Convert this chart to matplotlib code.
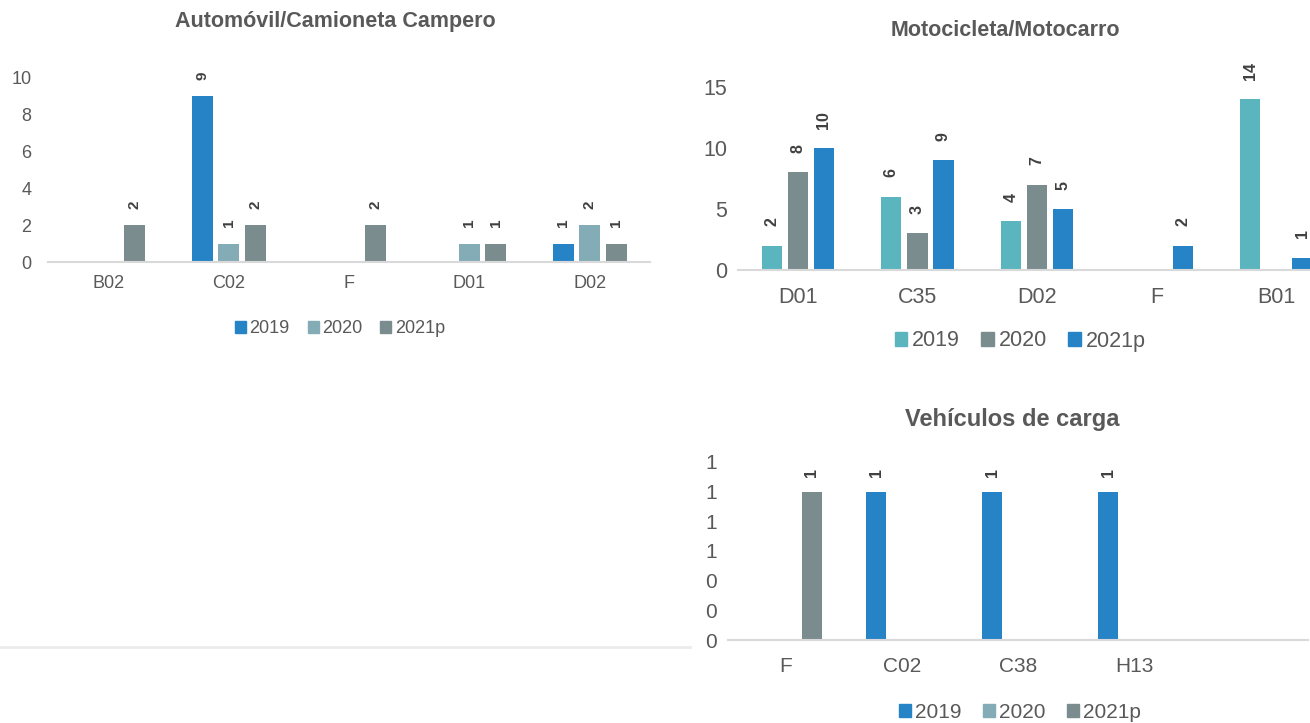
import numpy as np
import matplotlib
matplotlib.use("Agg")
import matplotlib.pyplot as plt
from matplotlib.lines import Line2D
from matplotlib.patches import Patch

plt.rcParams['font.family'] = ['Liberation Sans', 'DejaVu Sans']

# Automovil/Camioneta Campero
cat_auto = ["B02", "C02", "F", "D01", "D02"]
auto_2019 = [0, 9, 0, 0, 1]
auto_2020 = [0, 1, 0, 1, 2]
auto_2021 = [2, 2, 2, 1, 1]

# Motocicleta/Motocarro
cat_moto = ["D01", "C35", "D02", "F", "B01"]
moto_2019 = [2, 6, 4, 0, 14]
moto_2020 = [8, 3, 7, 0, 0]
moto_2021 = [10, 9, 5, 2, 1]

# Vehiculos de carga
cat_carga = ["F", "C02", "C38", "H13", ""]
carga_2019 = [0, 1, 1, 1, 0]
carga_2020 = [0, 0, 0, 0, 0]
carga_2021 = [1, 0, 0, 0, 0]

years = ["2019", "2020", "2021p"]

blue = "#2683C6"
light = "#84ACB6"
grey = "#7A8C8E"
teal = "#5AB5BF"
txt = "#595959"
lbl = "#404040"

W, H = 1310, 723
fig = plt.figure(figsize=(W / 100, H / 100), dpi=100)


def box(x0, x1, ytop, ybot):
    return [x0 / W, 1 - ybot / H, (x1 - x0) / W, (ybot - ytop) / H]


def bars(ax, cats, series, colors, width, step, fs_tick, fs_lbl, lbl_off, ymax, yticks, fmt, xpad, ypad):
    x = np.arange(len(cats))
    for k, (vals, col) in enumerate(zip(series, colors)):
        off = (k - 1) * step
        for xi, v in zip(x, vals):
            if v == 0:
                continue
            ax.bar(xi + off, v, width, color=col)
            ax.annotate(str(v), (xi + off, v), xytext=(0, lbl_off), textcoords="offset points",
                        ha="center", va="bottom", rotation=90, fontsize=fs_lbl,
                        fontweight="bold", color=lbl, annotation_clip=False)
    ax.set_xlim(-0.5, len(cats) - 0.5)
    ax.set_ylim(0, ymax)
    ax.set_xticks(x)
    ax.set_xticklabels(cats)
    ax.set_yticks(yticks)
    ax.set_yticklabels([fmt % t for t in yticks])
    for s in ["top", "right", "left"]:
        ax.spines[s].set_visible(False)
    ax.spines["bottom"].set_color("#D9D9D9")
    ax.spines["bottom"].set_linewidth(1.5)
    ax.tick_params(length=0, labelsize=fs_tick, colors=txt)
    ax.tick_params(axis="x", pad=xpad)
    ax.tick_params(axis="y", pad=ypad)
    ax.patch.set_alpha(0)


def legend(ax, colors, fs, x, y):
    handles = [Patch(color=c, label=l) for c, l in zip(colors, years)]
    ax.legend(handles=handles, loc="center", bbox_to_anchor=(x / W, 1 - y / H), ncol=3,
              frameon=False, fontsize=fs, labelcolor=txt, handlelength=0.6, handleheight=0.6,
              handletextpad=0.2, columnspacing=1.0, bbox_transform=fig.transFigure)


# chart 1
ax1 = fig.add_axes(box(48, 650, 78, 262))
bars(ax1, cat_auto, [auto_2019, auto_2020, auto_2021], [blue, light, grey],
     0.174, 0.22, 13, 11, 12, 10, [0, 2, 4, 6, 8, 10], "%d", 9, 12)
fig.text(335 / W, 1 - 22 / H, "Automóvil/Camioneta Campero", ha="center", va="center",
         fontsize=15.5, fontweight="bold", color=txt)
legend(ax1, [blue, light, grey], 13, 340, 329)

# chart 2
ax2 = fig.add_axes(box(738, 1336, 87, 270))
bars(ax2, cat_moto, [moto_2019, moto_2020, moto_2021], [teal, grey, blue],
     0.17, 0.218, 15.5, 11.5, 14, 15, [0, 5, 10, 15], "%d", 12, 8)
fig.text(1005 / W, 1 - 30 / H, "Motocicleta/Motocarro", ha="center", va="center",
         fontsize=15.5, fontweight="bold", color=txt)
legend(ax2, [teal, grey, blue], 15.5, 1020, 341)

# chart 3
ax3 = fig.add_axes(box(728, 1308, 462, 640))
bars(ax3, cat_carga, [carga_2019, carga_2020, carga_2021], [blue, light, grey],
     0.172, 0.224, 15, 11.5, 10.5, 1.2, [0, 0.2, 0.4, 0.6, 0.8, 1.0, 1.2], "%.0f", 12, 8)
fig.text(1012 / W, 1 - 419 / H, "Vehículos de carga", ha="center", va="center",
         fontsize=17, fontweight="bold", color=txt)
legend(ax3, [blue, light, grey], 15, 1020, 712)

# light separator line bottom left
fig.add_artist(Line2D([0, 690 / W], [1 - 647 / H, 1 - 647 / H], color="#EBEBEB", lw=2))

fig.savefig("out.png", dpi=100, facecolor="white")
